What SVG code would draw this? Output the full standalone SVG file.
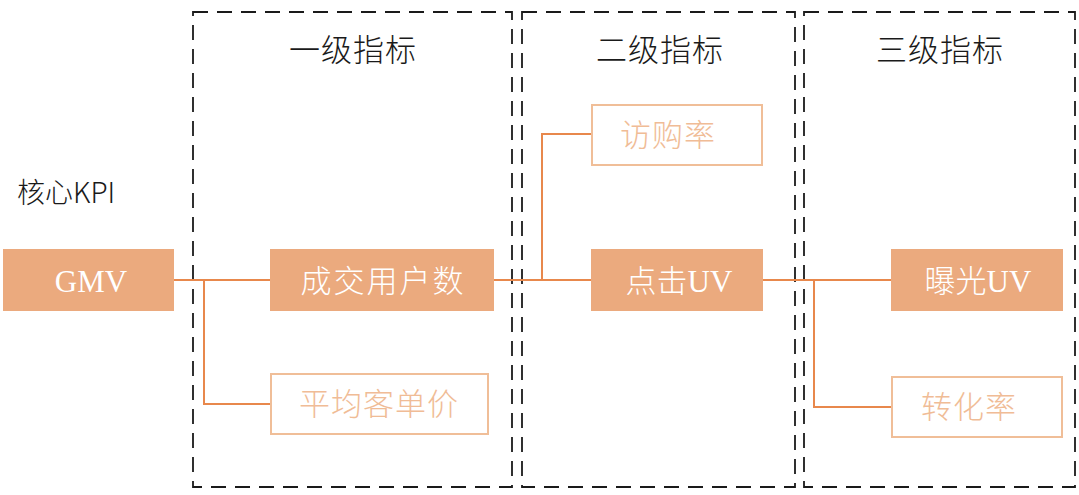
<svg xmlns="http://www.w3.org/2000/svg" width="1079" height="495" viewBox="0 0 1079 495">
<style>
.frame{fill:none;stroke:#1a1a1a;stroke-width:1.8;stroke-dasharray:15 9}
.title{font-family:"Noto Sans CJK SC","Noto Sans",sans-serif;font-weight:300;font-size:31px;letter-spacing:1px;fill:#1a1a1a;text-anchor:middle}
.solid{fill:#EBAA7E}
.outline{fill:#fff;stroke:#F0BE98;stroke-width:2}
.wt{font-family:"Liberation Serif","Noto Sans CJK SC",serif;font-size:31px;fill:#fff;text-anchor:middle}
.cj{font-family:"Noto Sans CJK SC",sans-serif;font-weight:300;font-size:31px}
.ot{font-family:"Noto Sans CJK SC","Liberation Serif",sans-serif;font-weight:300;font-size:31px;letter-spacing:1px;fill:#F0BC96;text-anchor:middle}
.conn{fill:none;stroke:#E8884C;stroke-width:2}
</style>
<rect width="1079" height="495" fill="#fff"/>
<g id="frames">
<rect class="frame" x="193" y="12" width="319" height="475"/>
<rect class="frame" x="522" y="12" width="273" height="475"/>
<rect class="frame" x="804" y="12" width="271" height="475"/>
</g>
<g id="titles">
<text class="title" x="353" y="61">一级指标</text>
<text class="title" x="660" y="61">二级指标</text>
<text class="title" x="940" y="61">三级指标</text>
<text x="17" y="203" style="font-family:'Noto Sans CJK SC','Noto Sans',sans-serif;font-weight:300;font-size:28px;fill:#1a1a1a">核心KPI</text>
</g>
<g id="connectors">
<path class="conn" d="M174 280 H270 M204 280 V404 H270"/>
<path class="conn" d="M494 280 H591 M542 280 V134 H591"/>
<path class="conn" d="M763 280 H891 M814 280 V407 H891"/>
</g>
<g id="gmv">
<rect class="solid" x="3" y="249" width="171" height="62"/>
<text class="wt" x="91" y="292">GMV</text>
</g>
<g id="chengjiao">
<rect class="solid" x="270" y="249" width="224" height="62"/>
<text class="wt cj" x="383" y="292" style="letter-spacing:2px">成交用户数</text>
</g>
<g id="pingjun">
<rect class="outline" x="271" y="374" width="217" height="60"/>
<text class="ot" x="379" y="415" style="letter-spacing:1px">平均客单价</text>
</g>
<g id="fanggou">
<rect class="outline" x="592" y="105" width="170" height="60"/>
<text class="ot" x="668" y="146">访购率</text>
</g>
<g id="dianji">
<rect class="solid" x="591" y="249" width="172" height="62"/>
<text class="wt" x="679" y="292"><tspan class="cj">点击</tspan>UV</text>
</g>
<g id="baoguang">
<rect class="solid" x="891" y="249" width="172" height="62"/>
<text class="wt" x="978" y="292"><tspan class="cj">曝光</tspan>UV</text>
</g>
<g id="zhuanhua">
<rect class="outline" x="892" y="377" width="170" height="60"/>
<text class="ot" x="969" y="418">转化率</text>
</g>
</svg>
